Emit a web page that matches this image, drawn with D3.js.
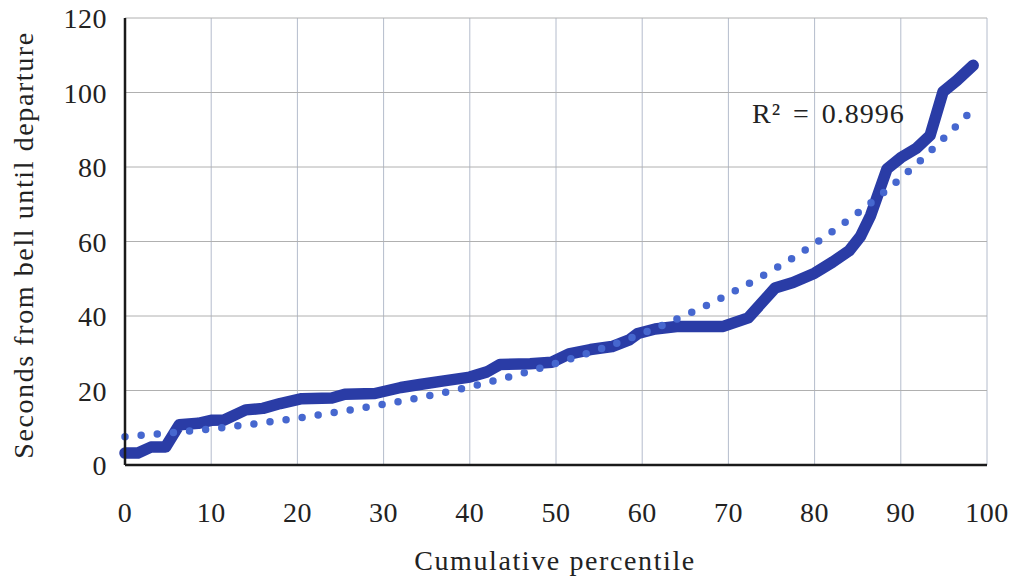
<!DOCTYPE html>
<html>
<head>
<meta charset="utf-8">
<script src="https://cdn.jsdelivr.net/npm/d3@7"></script>
<style>
  html, body { margin: 0; padding: 0; background: #fff; }
  text { font-family: "Liberation Serif", "DejaVu Serif", serif; fill: #222; }
</style>
</head>
<body>
<div id="chart"></div>
<script>
// cumulative percentile vs seconds from bell until departure
const percentiles = [0, 1.5, 3, 4.7, 6.3, 8.5, 10, 11.5, 14, 16, 18, 20.5, 24, 25.5, 29, 32, 34.2, 37, 40, 42, 43.5, 47, 49.5, 51.5, 54, 56.5, 58.5, 59.5, 61.5, 64, 69.4, 72.3, 75.4, 77.5, 80, 82.1, 84, 85.3, 86.5, 88.4, 90, 91.8, 93.4, 94.9, 96.5, 98.4];
const seconds = [3.2, 3.2, 4.8, 4.8, 10.8, 11.2, 12, 12.1, 14.8, 15.2, 16.5, 17.8, 18, 19, 19.2, 20.8, 21.6, 22.6, 23.6, 25, 27, 27.2, 27.6, 29.8, 31, 31.8, 33.6, 35.3, 36.5, 37.2, 37.2, 39.5, 47.5, 49, 51.5, 54.5, 57.5, 61.3, 67, 79.5, 82.5, 85, 88.5, 100.2, 103.2, 107.3];

// trendline
const trendX = [0, 10, 20, 30, 40, 50, 60, 70, 80, 90, 98.4];
const trendY = [7.6, 9.7, 12.6, 16.3, 21, 27.3, 35.3, 45.8, 59.4, 77, 95.5];

const xTicks = [0, 10, 20, 30, 40, 50, 60, 70, 80, 90, 100];
const yTicks = [0, 20, 40, 60, 80, 100, 120];
const rSquared = "0.8996";

const margin = { top: 18, right: 24, bottom: 112, left: 125 },
    width = 1011 - margin.left - margin.right,
    height = 577 - margin.top - margin.bottom;

const svgContainer = d3.select("#chart").append("svg")
    .attr("width", 1011)
    .attr("height", 577);

const svg = svgContainer.append("g")
    .attr("transform", `translate(${margin.left},${margin.top})`);

const x = d3.scaleLinear().domain([0, 100]).range([0, width]);
const y = d3.scaleLinear().domain([0, 120]).range([height, 0]);

// grid
svg.append("g")
    .selectAll("line")
    .data(xTicks)
    .join("line")
    .attr("x1", d => x(d)).attr("x2", d => x(d))
    .attr("y1", 0).attr("y2", height)
    .attr("stroke", "#b4bccc")
    .attr("stroke-width", 1);

svg.append("g")
    .selectAll("line")
    .data(yTicks)
    .join("line")
    .attr("x1", 0).attr("x2", width)
    .attr("y1", d => y(d)).attr("y2", d => y(d))
    .attr("stroke", "#b0b0b0")
    .attr("stroke-width", 1);

// main series
const series = percentiles.map((p, i) => ({ p, s: seconds[i] }));
const line = d3.line()
    .x(d => x(d.p))
    .y(d => y(d.s));

svg.append("path")
    .datum(series)
    .attr("fill", "none")
    .attr("stroke", "#2a3ca6")
    .attr("stroke-width", 11.5)
    .attr("stroke-linejoin", "round")
    .attr("stroke-linecap", "round")
    .attr("d", line);

// dotted trendline
const trend = trendX.map((p, i) => ({ p, s: trendY[i] }));
svg.append("path")
    .datum(trend)
    .attr("fill", "none")
    .attr("stroke", "#4667cf")
    .attr("stroke-width", 7.5)
    .attr("stroke-linecap", "round")
    .attr("stroke-dasharray", "0 16.2")
    .attr("d", d3.line().x(d => x(d.p)).y(d => y(d.s)).curve(d3.curveMonotoneX));

// axes (left + bottom)
svg.append("line")
    .attr("x1", 0).attr("x2", 0).attr("y1", 0).attr("y2", height)
    .attr("stroke", "#1a1a1a").attr("stroke-width", 2.5);
svg.append("line")
    .attr("x1", 0).attr("x2", width).attr("y1", height).attr("y2", height)
    .attr("stroke", "#1a1a1a").attr("stroke-width", 2.5);

// tick labels
svg.append("g")
    .selectAll("text")
    .data(xTicks)
    .join("text")
    .attr("x", d => x(d))
    .attr("y", height + 57)
    .attr("text-anchor", "middle")
    .style("font-size", "28px")
    .style("letter-spacing", "0.5px")
    .text(d => d);

svg.append("g")
    .selectAll("text")
    .data(yTicks)
    .join("text")
    .attr("x", -18)
    .attr("y", d => y(d) + 10)
    .attr("text-anchor", "end")
    .style("font-size", "28px")
    .style("letter-spacing", "0.5px")
    .text(d => d);

// axis titles
svg.append("text")
    .attr("x", 555 - margin.left)
    .attr("y", height + 105)
    .attr("text-anchor", "middle")
    .style("font-size", "28px")
    .style("letter-spacing", "1.6px")
    .text("Cumulative percentile");

svg.append("text")
    .attr("transform", "rotate(-90)")
    .attr("x", -227)
    .attr("y", -92)
    .attr("text-anchor", "middle")
    .style("font-size", "28px")
    .style("letter-spacing", "1.6px")
    .text("Seconds from bell until departure");

// R squared label
svg.append("text")
    .attr("x", 752 - margin.left)
    .attr("y", 123 - margin.top)
    .style("font-size", "28px")
    .style("letter-spacing", "1px")
    .style("word-spacing", "4px")
    .text(`R² = ${rSquared}`);
</script>
</body>
</html>
